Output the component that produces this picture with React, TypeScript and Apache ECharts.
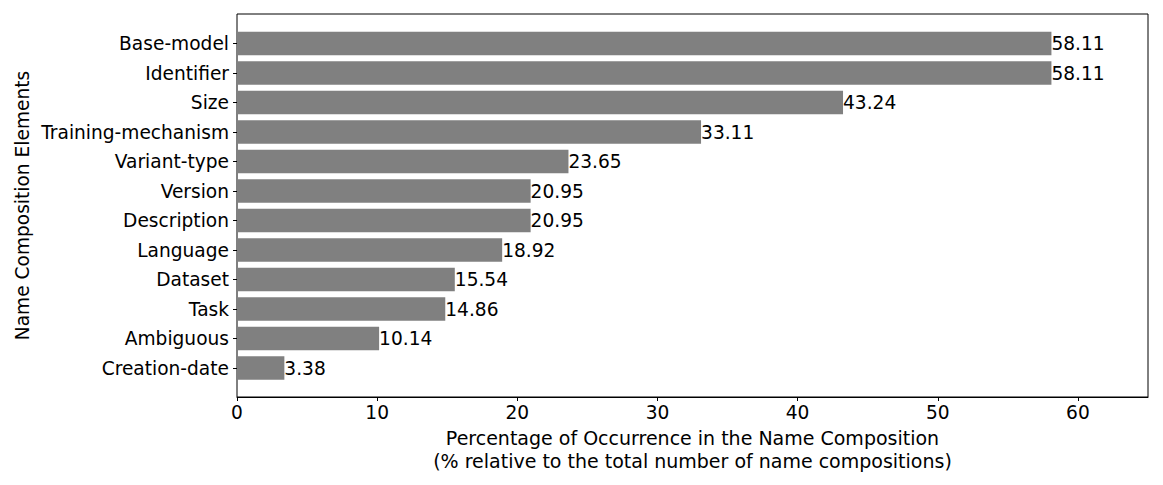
import React, { useEffect, useRef } from "react";
import * as echarts from "echarts";

const categories = [
  "Base-model",
  "Identifier",
  "Size",
  "Training-mechanism",
  "Variant-type",
  "Version",
  "Description",
  "Language",
  "Dataset",
  "Task",
  "Ambiguous",
  "Creation-date",
];
const values = [58.11, 58.11, 43.24, 33.11, 23.65, 20.95, 20.95, 18.92, 15.54, 14.86, 10.14, 3.38];
const xTicks = [0, 10, 20, 30, 40, 50, 60];

const FONT = "DejaVu Sans";
const FS = 18.6;
const NFS = 19;

export default function App() {
  const ref = useRef<HTMLDivElement>(null);
  useEffect(() => {
    document.body.style.margin = "0";
    const chart = echarts.init(ref.current!, null, { renderer: "svg" });
    chart.setOption({
      animation: false,
      textStyle: { fontFamily: FONT, color: "#000" },
      grid: [
        { left: 237, right: 15, top: 14, bottom: 88, show: true, borderColor: "#000", borderWidth: 1, backgroundColor: "transparent" },
        { left: 237, right: 15, top: 28.75, bottom: 102.25 },
      ],
      xAxis: [
        {
          gridIndex: 0,
          type: "value",
          min: 0,
          max: 65,
          interval: 10,
          splitLine: { show: false },
          axisLine: { show: true, lineStyle: { color: "#000" } },
          axisTick: { show: true, length: 4, customValues: xTicks, lineStyle: { color: "#000" } },
          axisLabel: {
            fontSize: FS,
            color: "#000",
            fontFamily: FONT,
            margin: 6,
            customValues: xTicks,
          },
          name: "Percentage of Occurrence in the Name Composition\n(% relative to the total number of name compositions)",
          nameLocation: "middle",
          nameGap: 28,
          nameTextStyle: { fontSize: NFS, color: "#000", fontFamily: FONT, lineHeight: 23 },
        },
        {
          gridIndex: 1,
          type: "value",
          min: 0,
          max: 65,
          show: false,
          splitLine: { show: false },
        },
      ],
      yAxis: [
        {
          gridIndex: 0,
          type: "value",
          show: true,
          axisLine: { show: false },
          axisTick: { show: false },
          axisLabel: { show: false },
          splitLine: { show: false },
          name: "Name Composition Elements",
          nameLocation: "middle",
          nameRotate: 90,
          nameGap: 205,
          nameTextStyle: { fontSize: FS, color: "#000", fontFamily: FONT },
        },
        {
          gridIndex: 1,
          type: "category",
          data: categories,
          inverse: true,
          axisLine: { show: false },
          axisTick: { show: true, alignWithLabel: true, length: 4, lineStyle: { color: "#000" } },
          axisLabel: { fontSize: FS, color: "#000", fontFamily: FONT, margin: 8 },
          splitLine: { show: false },
        },
      ],
      series: [
        {
          type: "bar",
          xAxisIndex: 1,
          yAxisIndex: 1,
          data: values,
          barWidth: "80%",
          itemStyle: { color: "#808080" },
          label: {
            show: true,
            position: "right",
            distance: 0,
            fontSize: FS,
            color: "#000",
            fontFamily: FONT,
            formatter: (p: any) => p.value.toFixed(2),
          },
        },
      ],
    });
    return () => chart.dispose();
  }, []);
  return <div ref={ref} style={{ width: 1163, height: 485 }} />;
}
